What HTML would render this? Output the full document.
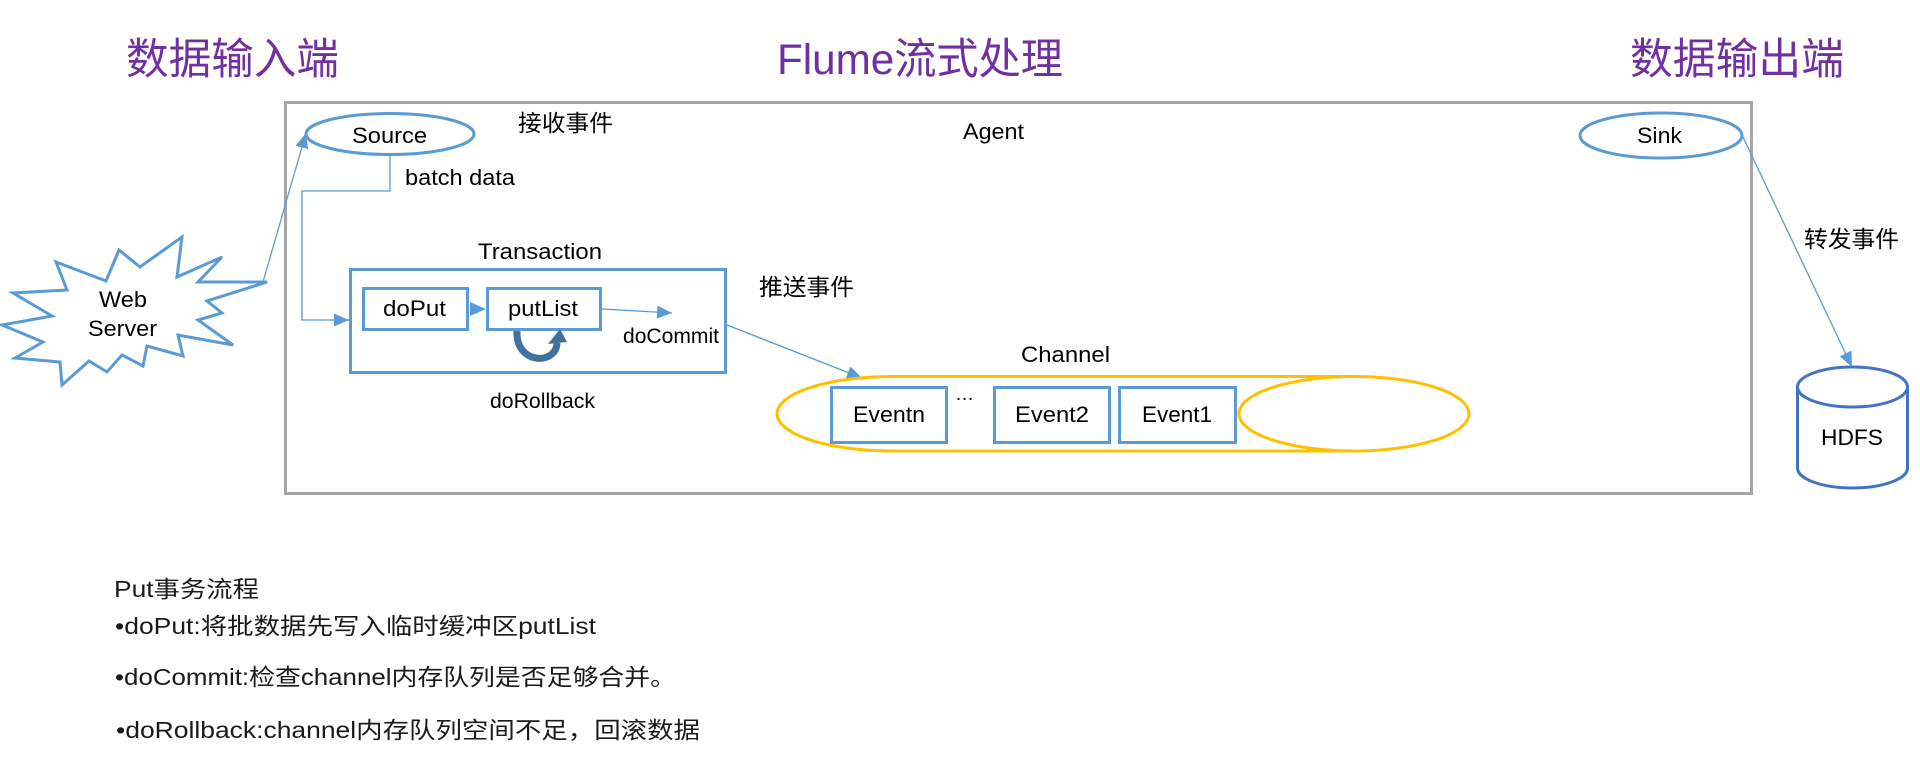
<!DOCTYPE html>
<html>
<head>
<meta charset="utf-8">
<style>
  html, body { margin: 0; padding: 0; background: #ffffff; }
  body { width: 1920px; height: 774px; overflow: hidden; }
  svg { display: block; }
  text { font-family: "Liberation Sans", "Noto Sans CJK SC", sans-serif; }
</style>
</head>
<body>
<svg width="1920" height="774" viewBox="0 0 1920 774" xmlns="http://www.w3.org/2000/svg">
  <defs>
    <marker id="ah" markerUnits="userSpaceOnUse" markerWidth="16" markerHeight="14" refX="15" refY="6.5" orient="auto">
      <path d="M0,0 L15,6.5 L0,13 z" fill="#5B9BD5"/>
    </marker>
  </defs>
  <rect x="0" y="0" width="1920" height="774" fill="#ffffff"/>

  <!-- Titles -->
  <text x="126" y="74" font-size="43" fill="#7030A0" textLength="213" lengthAdjust="spacingAndGlyphs">数据输入端</text>
  <text x="777" y="74" font-size="43" fill="#7030A0" textLength="286" lengthAdjust="spacingAndGlyphs">Flume流式处理</text>
  <text x="1630" y="74" font-size="43" fill="#7030A0" textLength="214" lengthAdjust="spacingAndGlyphs">数据输出端</text>

  <!-- Agent box -->
  <rect x="285.5" y="102.5" width="1466" height="391" fill="none" stroke="#A6A6A6" stroke-width="3"/>

  <!-- Web Server starburst -->
  <polygon points="56,262 106,281 119,250 140,267 182,237 177,277 222,257 198,282 267,282 207,301 222,313 198,320 233,345 178,335 183,356 147,346 143,366 122,355 107,372 89,361 62,385 60,362 15,358 43,342 2,325 52,316 13,293 67,290"
           fill="#ffffff" stroke="#5B9BD5" stroke-width="3" stroke-linejoin="miter"/>
  <text x="99" y="307" font-size="22" fill="#000" textLength="48" lengthAdjust="spacingAndGlyphs">Web</text>
  <text x="88" y="336" font-size="22" fill="#000" textLength="69" lengthAdjust="spacingAndGlyphs">Server</text>

  <!-- Web -> Source -->
  <line x1="263" y1="282" x2="306" y2="133" stroke="#5B9BD5" stroke-width="1.3" marker-end="url(#ah)"/>

  <!-- Source -->
  <ellipse cx="390" cy="134" rx="84" ry="20.5" fill="#ffffff" stroke="#5B9BD5" stroke-width="3"/>
  <text x="352" y="143" font-size="22" fill="#000" textLength="75" lengthAdjust="spacingAndGlyphs">Source</text>
  <text x="518" y="131" font-size="23" fill="#000" textLength="95" lengthAdjust="spacingAndGlyphs">接收事件</text>
  <text x="963" y="139" font-size="22" fill="#000" textLength="61" lengthAdjust="spacingAndGlyphs">Agent</text>

  <!-- batch data connector -->
  <polyline points="390,155 390,191 302,191 302,320 349,320" fill="none" stroke="#5B9BD5" stroke-width="1.3" marker-end="url(#ah)"/>
  <text x="405" y="185" font-size="22" fill="#000" textLength="110" lengthAdjust="spacingAndGlyphs">batch data</text>

  <!-- Transaction -->
  <text x="478" y="259" font-size="22" fill="#000" textLength="124" lengthAdjust="spacingAndGlyphs">Transaction</text>
  <rect x="350.5" y="269.5" width="375" height="103" fill="none" stroke="#5B9BD5" stroke-width="3"/>
  <rect x="363.5" y="288.5" width="104" height="41" fill="#ffffff" stroke="#5B9BD5" stroke-width="3"/>
  <rect x="487.5" y="288.5" width="113" height="41" fill="#ffffff" stroke="#5B9BD5" stroke-width="3"/>
  <text x="383" y="316" font-size="22" fill="#000" textLength="63" lengthAdjust="spacingAndGlyphs">doPut</text>
  <text x="508" y="316" font-size="22" fill="#000" textLength="70" lengthAdjust="spacingAndGlyphs">putList</text>
  <polygon points="470,302 486,309 470,316" fill="#5B9BD5"/>

  <!-- putList -> doCommit -->
  <line x1="602" y1="309" x2="672" y2="313" stroke="#5B9BD5" stroke-width="1.3" marker-end="url(#ah)"/>
  <text x="623" y="343" font-size="21" fill="#000" textLength="96" lengthAdjust="spacingAndGlyphs">doCommit</text>

  <!-- circular arrow -->
  <path d="M517,331 C515,364 556,366 557,343" fill="none" stroke="#41719C" stroke-width="7"/>
  <polygon points="548,344 567,342 560,329" fill="#41719C"/>

  <text x="490" y="408" font-size="21" fill="#000" textLength="105" lengthAdjust="spacingAndGlyphs">doRollback</text>
  <text x="759" y="295" font-size="23" fill="#000" textLength="95" lengthAdjust="spacingAndGlyphs">推送事件</text>

  <!-- Transaction -> Channel -->
  <line x1="727" y1="325" x2="862" y2="378" stroke="#5B9BD5" stroke-width="1.3" marker-end="url(#ah)"/>

  <!-- Channel -->
  <text x="1021" y="362" font-size="22" fill="#000" textLength="89" lengthAdjust="spacingAndGlyphs">Channel</text>
  <path d="M1354,376.5 L892,376.5 A115,37.25 0 0 0 892,451 L1354,451" fill="none" stroke="#FFC000" stroke-width="3"/>
  <ellipse cx="1354" cy="413.75" rx="115" ry="37.25" fill="none" stroke="#FFC000" stroke-width="3"/>

  <rect x="831.5" y="387.5" width="115" height="55" fill="#ffffff" stroke="#5B9BD5" stroke-width="3"/>
  <rect x="994.5" y="387.5" width="115" height="55" fill="#ffffff" stroke="#5B9BD5" stroke-width="3"/>
  <rect x="1119.5" y="387.5" width="116" height="55" fill="#ffffff" stroke="#5B9BD5" stroke-width="3"/>
  <text x="853" y="422" font-size="22" fill="#000" textLength="72" lengthAdjust="spacingAndGlyphs">Eventn</text>
  <text x="1015" y="422" font-size="22" fill="#000" textLength="74" lengthAdjust="spacingAndGlyphs">Event2</text>
  <text x="1142" y="422" font-size="22" fill="#000" textLength="70" lengthAdjust="spacingAndGlyphs">Event1</text>
  <text x="955" y="400" font-size="20" fill="#000" textLength="19" lengthAdjust="spacingAndGlyphs">…</text>

  <!-- Sink -->
  <ellipse cx="1661" cy="135.5" rx="81" ry="22.5" fill="#ffffff" stroke="#5B9BD5" stroke-width="3"/>
  <text x="1637" y="143" font-size="22" fill="#000" textLength="45" lengthAdjust="spacingAndGlyphs">Sink</text>

  <!-- Sink -> HDFS -->
  <line x1="1743" y1="137" x2="1852" y2="367" stroke="#5B9BD5" stroke-width="1.3" marker-end="url(#ah)"/>
  <text x="1804" y="247" font-size="23" fill="#000" textLength="95" lengthAdjust="spacingAndGlyphs">转发事件</text>

  <!-- HDFS cylinder -->
  <path d="M1797.5,387 L1797.5,468 A55,20 0 0 0 1907.5,468 L1907.5,387" fill="#ffffff" stroke="#4472C4" stroke-width="3"/>
  <ellipse cx="1852.5" cy="387" rx="55" ry="20" fill="#ffffff" stroke="#4472C4" stroke-width="3"/>
  <text x="1821" y="445" font-size="22" fill="#000" textLength="62" lengthAdjust="spacingAndGlyphs">HDFS</text>

  <!-- Bottom notes -->
  <text x="114" y="597" font-size="23" fill="#1a1a1a" textLength="145" lengthAdjust="spacingAndGlyphs">Put事务流程</text>
  <text x="115" y="634" font-size="23" fill="#1a1a1a" textLength="481" lengthAdjust="spacingAndGlyphs">•doPut:将批数据先写入临时缓冲区putList</text>
  <text x="115" y="685" font-size="23" fill="#1a1a1a" textLength="561" lengthAdjust="spacingAndGlyphs">•doCommit:检查channel内存队列是否足够合并。</text>
  <text x="116" y="738" font-size="23" fill="#1a1a1a" textLength="584" lengthAdjust="spacingAndGlyphs">•doRollback:channel内存队列空间不足，回滚数据</text>
</svg>
</body>
</html>
